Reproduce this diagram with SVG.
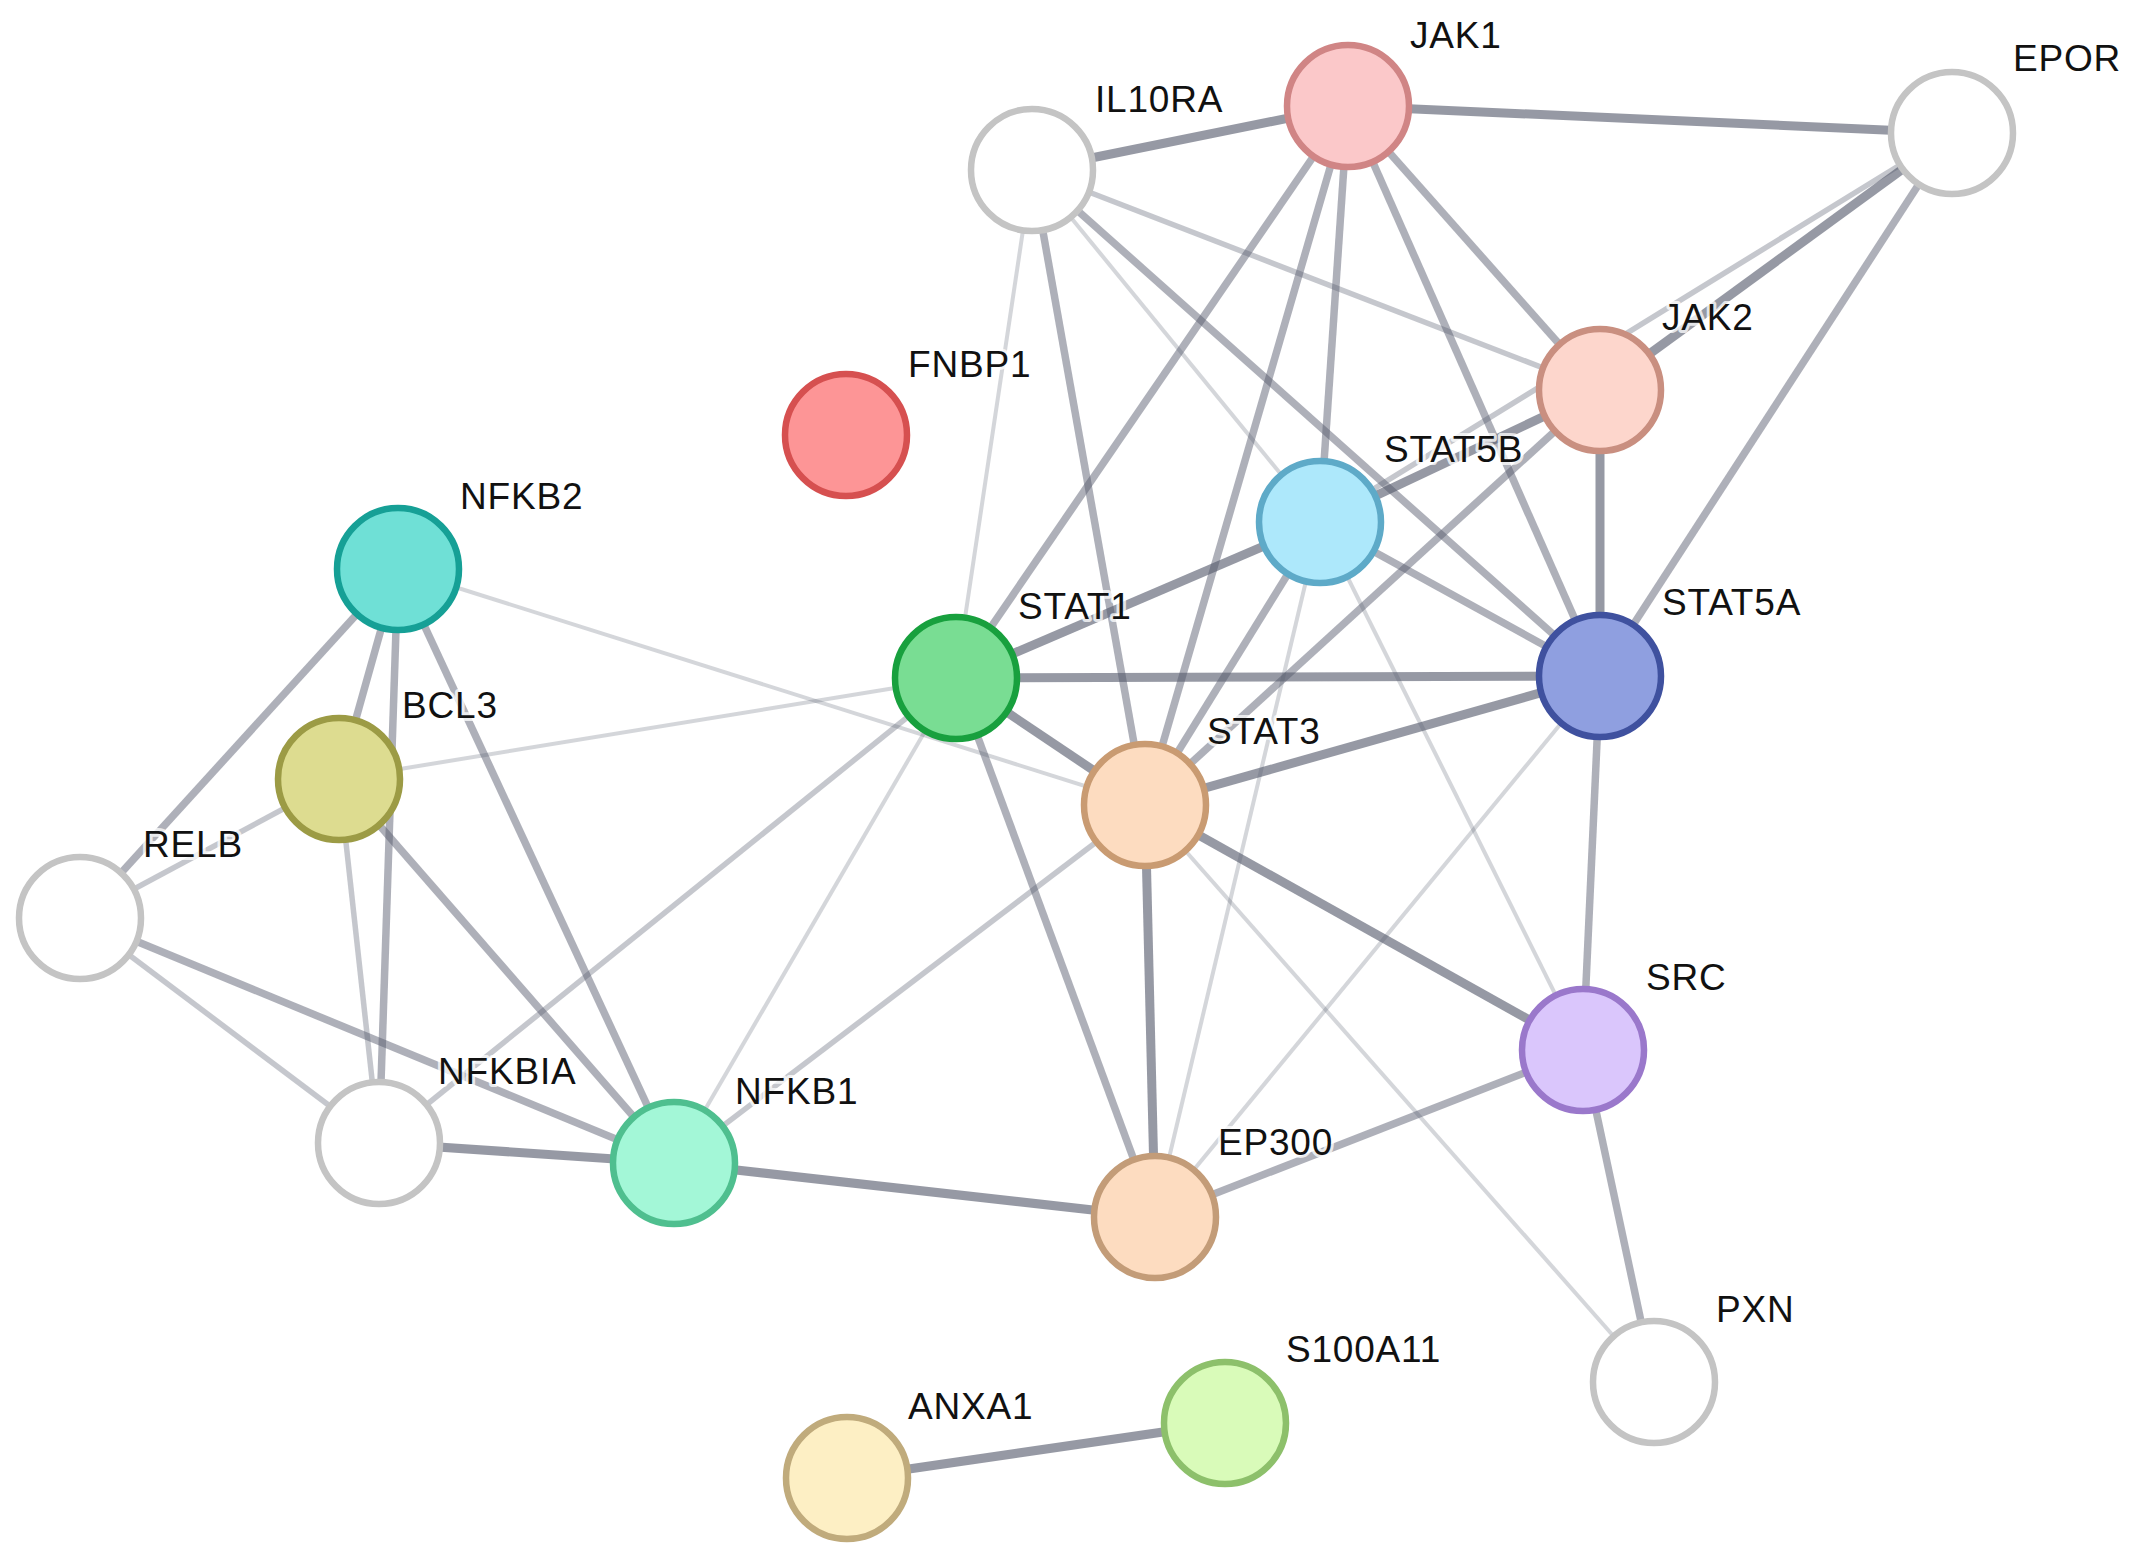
<svg xmlns="http://www.w3.org/2000/svg" width="2133" height="1568" viewBox="0 0 2133 1568">
<style>
.e{stroke:#555a6c;fill:none}
.s{stroke-width:9;stroke-opacity:0.62}
.m{stroke-width:7.5;stroke-opacity:0.48}
.w{stroke-width:5.5;stroke-opacity:0.34}
.v{stroke-width:4;stroke-opacity:0.25}
.n{stroke-width:6.5}
.t{font-family:"Liberation Sans",Arial,sans-serif;font-size:37px;letter-spacing:0.8px;fill:#111;stroke:#fff;stroke-width:6;stroke-opacity:0.75;paint-order:stroke;stroke-linejoin:round}
</style>
<rect width="2133" height="1568" fill="#fff"/>
<g id="edges" class="e">
<line class="s" x1="1032" y1="170" x2="1348" y2="106"/>
<line class="s" x1="1348" y1="106" x2="1952" y2="133"/>
<line class="w" x1="1032" y1="170" x2="1600" y2="390"/>
<line class="m" x1="1032" y1="170" x2="1600" y2="676"/>
<line class="v" x1="1032" y1="170" x2="1320" y2="522"/>
<line class="m" x1="1032" y1="170" x2="1145" y2="805"/>
<line class="v" x1="1032" y1="170" x2="956" y2="678"/>
<line class="m" x1="1348" y1="106" x2="956" y2="678"/>
<line class="m" x1="1348" y1="106" x2="1145" y2="805"/>
<line class="m" x1="1348" y1="106" x2="1320" y2="522"/>
<line class="m" x1="1348" y1="106" x2="1600" y2="676"/>
<line class="m" x1="1348" y1="106" x2="1600" y2="390"/>
<line class="s" x1="1952" y1="133" x2="1600" y2="390"/>
<line class="w" x1="1952" y1="133" x2="1320" y2="522"/>
<line class="m" x1="1952" y1="133" x2="1600" y2="676"/>
<line class="s" x1="1600" y1="390" x2="1600" y2="676"/>
<line class="s" x1="1600" y1="390" x2="1320" y2="522"/>
<line class="m" x1="1600" y1="390" x2="1145" y2="805"/>
<line class="s" x1="956" y1="678" x2="1600" y2="676"/>
<line class="s" x1="956" y1="678" x2="1145" y2="805"/>
<line class="s" x1="956" y1="678" x2="1320" y2="522"/>
<line class="m" x1="956" y1="678" x2="1155" y2="1217"/>
<line class="v" x1="956" y1="678" x2="674" y2="1163"/>
<line class="w" x1="956" y1="678" x2="379" y2="1143"/>
<line class="v" x1="956" y1="678" x2="339" y2="779"/>
<line class="v" x1="398" y1="569" x2="1145" y2="805"/>
<line class="s" x1="1145" y1="805" x2="1600" y2="676"/>
<line class="m" x1="1145" y1="805" x2="1320" y2="522"/>
<line class="s" x1="1145" y1="805" x2="1583" y2="1050"/>
<line class="s" x1="1145" y1="805" x2="1155" y2="1217"/>
<line class="w" x1="1145" y1="805" x2="674" y2="1163"/>
<line class="v" x1="1145" y1="805" x2="1654" y2="1382"/>
<line class="m" x1="1320" y1="522" x2="1600" y2="676"/>
<line class="v" x1="1320" y1="522" x2="1155" y2="1217"/>
<line class="v" x1="1320" y1="522" x2="1583" y2="1050"/>
<line class="m" x1="1600" y1="676" x2="1583" y2="1050"/>
<line class="v" x1="1600" y1="676" x2="1155" y2="1217"/>
<line class="m" x1="1583" y1="1050" x2="1155" y2="1217"/>
<line class="m" x1="1583" y1="1050" x2="1654" y2="1382"/>
<line class="s" x1="1155" y1="1217" x2="674" y2="1163"/>
<line class="s" x1="674" y1="1163" x2="379" y2="1143"/>
<line class="m" x1="674" y1="1163" x2="398" y2="569"/>
<line class="m" x1="674" y1="1163" x2="339" y2="779"/>
<line class="m" x1="674" y1="1163" x2="80" y2="918"/>
<line class="w" x1="379" y1="1143" x2="80" y2="918"/>
<line class="w" x1="379" y1="1143" x2="339" y2="779"/>
<line class="m" x1="379" y1="1143" x2="398" y2="569"/>
<line class="m" x1="398" y1="569" x2="339" y2="779"/>
<line class="m" x1="398" y1="569" x2="80" y2="918"/>
<line class="w" x1="80" y1="918" x2="339" y2="779"/>
<line class="s" x1="847" y1="1478" x2="1225" y2="1423"/>
</g>
<g id="JAK1"><circle class="n" cx="1348" cy="106" r="61" fill="#fbc8c9" stroke="#d08585"/><text class="t" x="1410" y="48">JAK1</text></g>
<g id="IL10RA"><circle class="n" cx="1032" cy="170" r="61" fill="#fff" stroke="#c4c4c4"/><text class="t" x="1095" y="112">IL10RA</text></g>
<g id="EPOR"><circle class="n" cx="1952" cy="133" r="61" fill="#fff" stroke="#c4c4c4"/><text class="t" x="2013" y="71">EPOR</text></g>
<g id="JAK2"><circle class="n" cx="1600" cy="390" r="61" fill="#fdd6cc" stroke="#c98f80"/><text class="t" x="1662" y="330">JAK2</text></g>
<g id="FNBP1"><circle class="n" cx="846" cy="435" r="61" fill="#fd9596" stroke="#d65050"/><text class="t" x="908" y="377">FNBP1</text></g>
<g id="STAT5B"><circle class="n" cx="1320" cy="522" r="61" fill="#ade8fb" stroke="#5eaac8"/><text class="t" x="1384" y="462">STAT5B</text></g>
<g id="NFKB2"><circle class="n" cx="398" cy="569" r="61" fill="#6fe0d6" stroke="#16a096"/><text class="t" x="460" y="509">NFKB2</text></g>
<g id="STAT1"><circle class="n" cx="956" cy="678" r="61" fill="#79dd93" stroke="#18a03e"/><text class="t" x="1018" y="619">STAT1</text></g>
<g id="STAT5A"><circle class="n" cx="1600" cy="676" r="61" fill="#8f9fe0" stroke="#3f519f"/><text class="t" x="1662" y="615">STAT5A</text></g>
<g id="BCL3"><circle class="n" cx="339" cy="779" r="61" fill="#dddc90" stroke="#9c9b45"/><text class="t" x="402" y="718">BCL3</text></g>
<g id="STAT3"><circle class="n" cx="1145" cy="805" r="61" fill="#fddcc0" stroke="#c99b72"/><text class="t" x="1207" y="744">STAT3</text></g>
<g id="RELB"><circle class="n" cx="80" cy="918" r="61" fill="#fff" stroke="#c4c4c4"/><text class="t" x="143" y="857">RELB</text></g>
<g id="SRC"><circle class="n" cx="1583" cy="1050" r="61" fill="#dac6fc" stroke="#9a78cb"/><text class="t" x="1646" y="990">SRC</text></g>
<g id="NFKBIA"><circle class="n" cx="379" cy="1143" r="61" fill="#fff" stroke="#c4c4c4"/><text class="t" x="438" y="1084">NFKBIA</text></g>
<g id="NFKB1"><circle class="n" cx="674" cy="1163" r="61" fill="#a3f7d7" stroke="#4fbf8f"/><text class="t" x="735" y="1104">NFKB1</text></g>
<g id="EP300"><circle class="n" cx="1155" cy="1217" r="61" fill="#fddcc0" stroke="#c39c78"/><text class="t" x="1218" y="1155">EP300</text></g>
<g id="PXN"><circle class="n" cx="1654" cy="1382" r="61" fill="#fff" stroke="#c4c4c4"/><text class="t" x="1716" y="1322">PXN</text></g>
<g id="S100A11"><circle class="n" cx="1225" cy="1423" r="61" fill="#d9fbb9" stroke="#8dc06b"/><text class="t" x="1286" y="1362">S100A11</text></g>
<g id="ANXA1"><circle class="n" cx="847" cy="1478" r="61" fill="#fdefc4" stroke="#c0ab7c"/><text class="t" x="908" y="1419">ANXA1</text></g>
</svg>
